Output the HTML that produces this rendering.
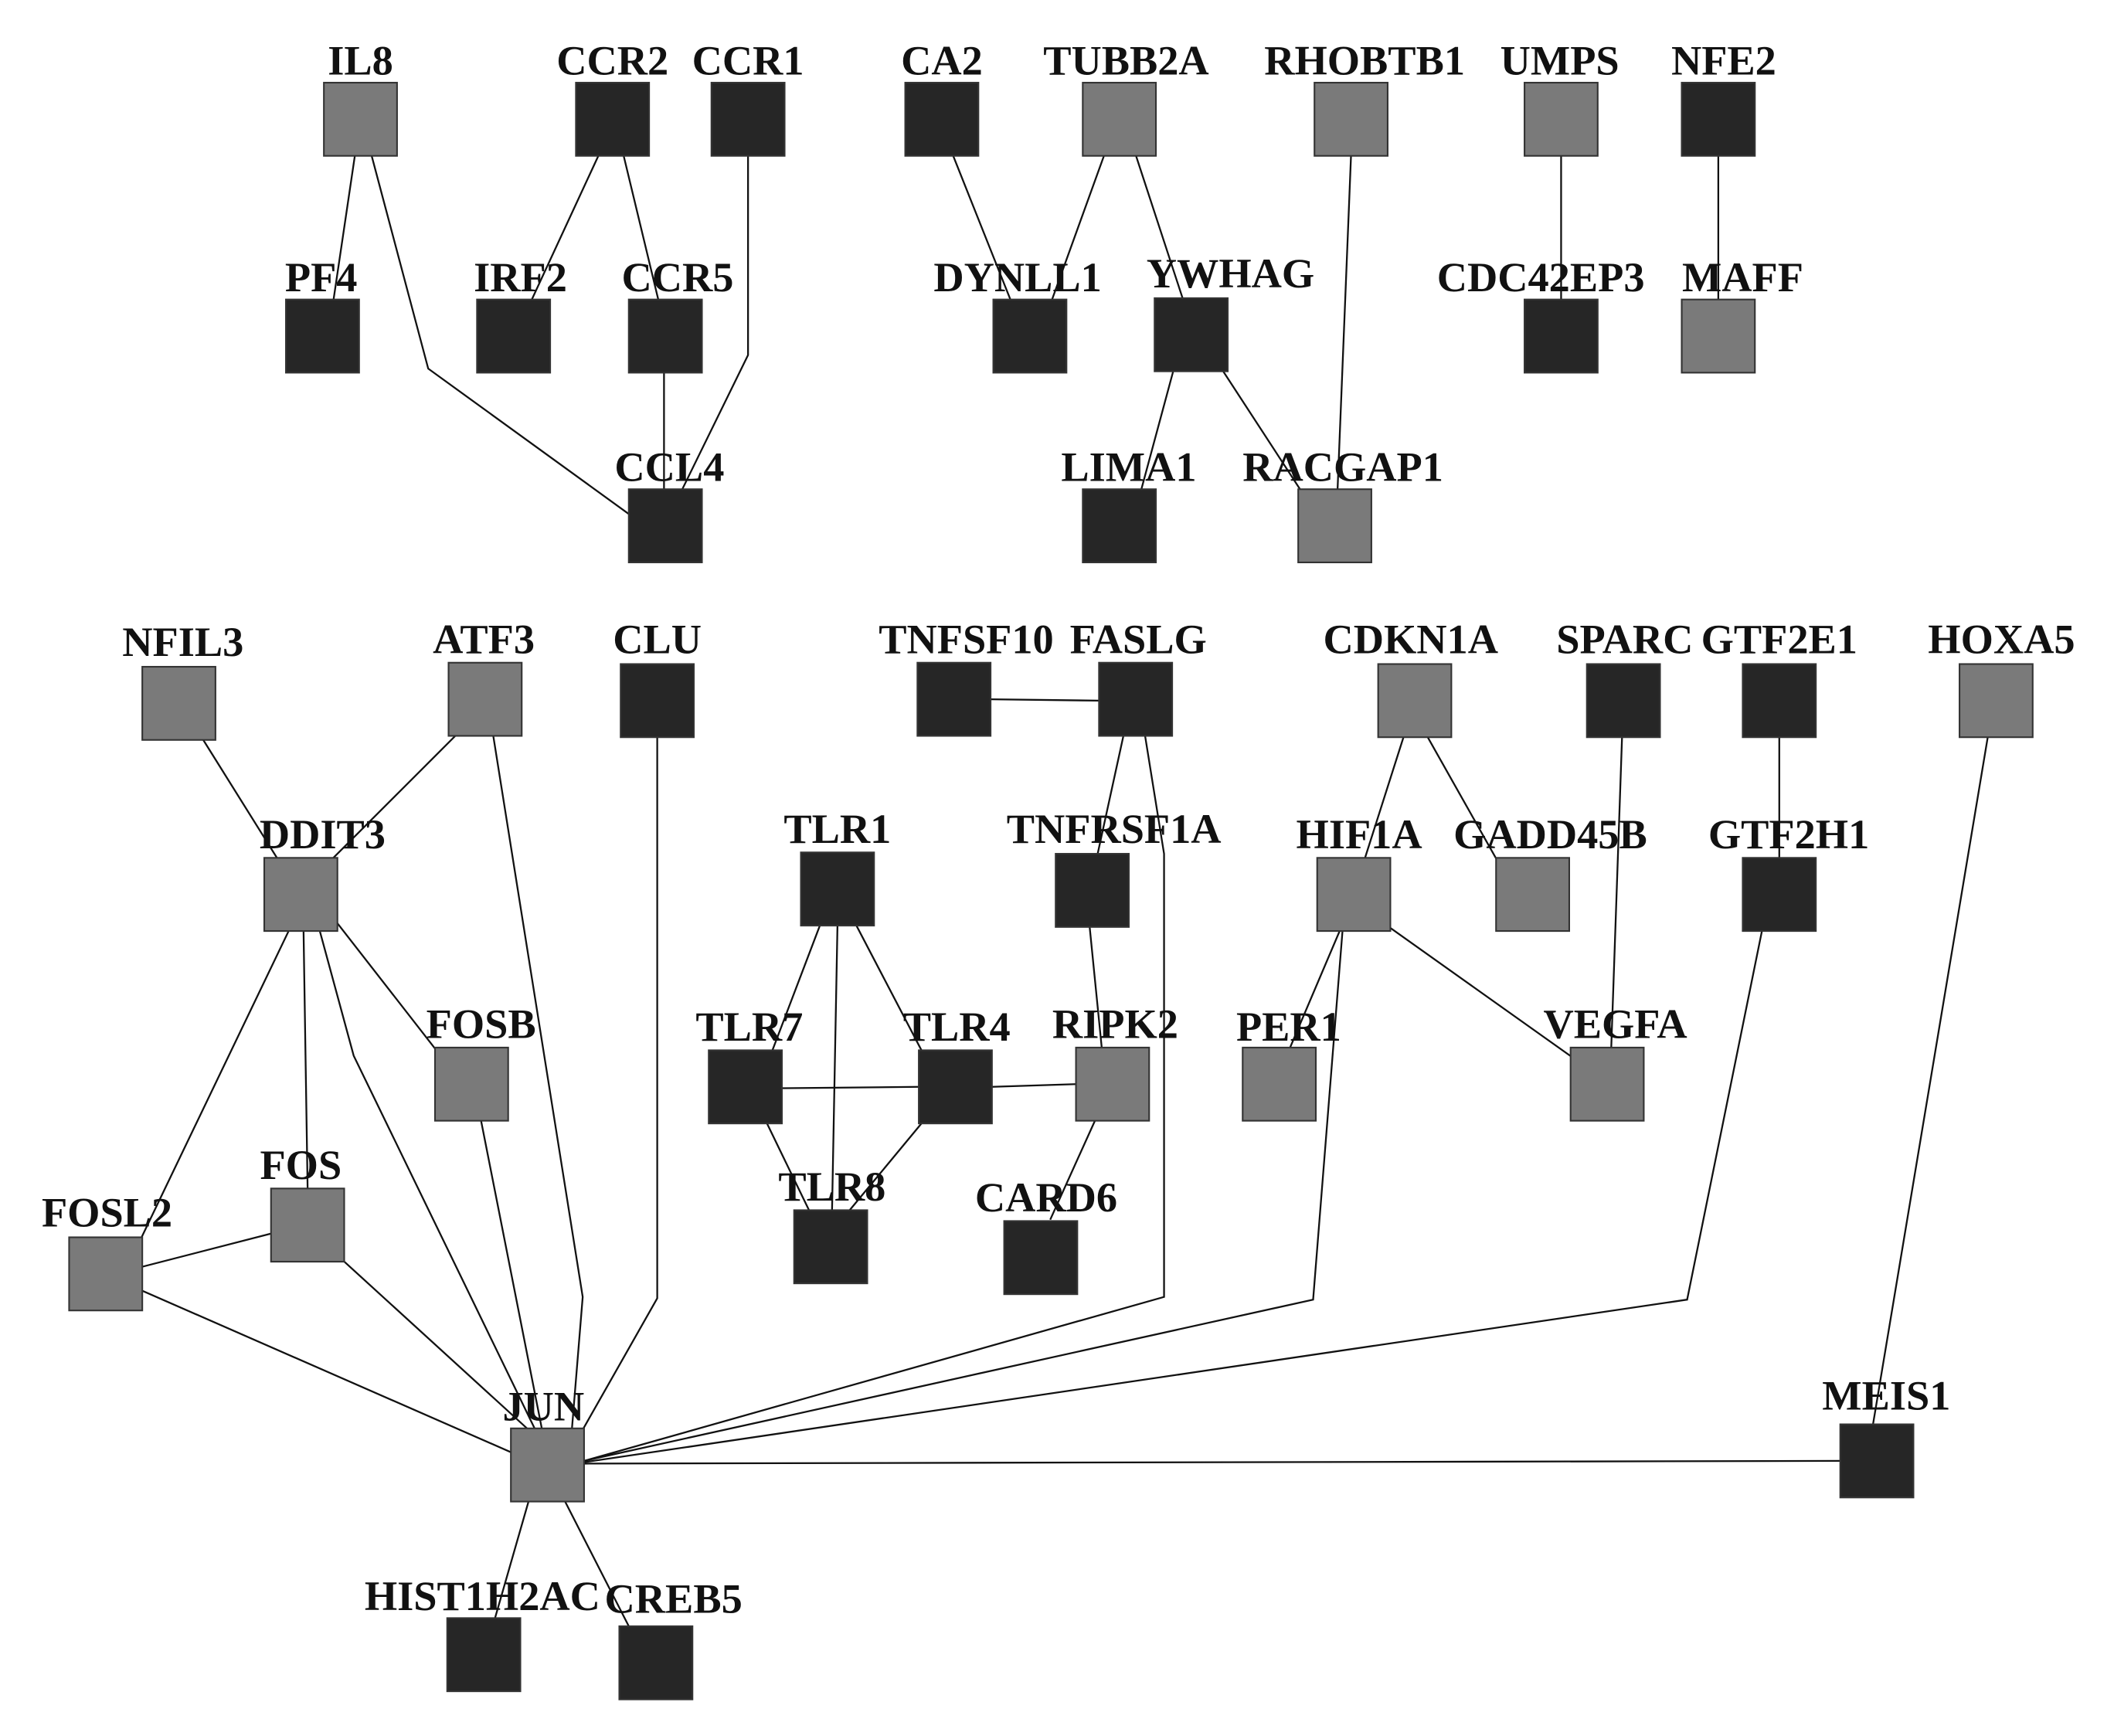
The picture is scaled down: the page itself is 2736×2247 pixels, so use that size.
<!DOCTYPE html>
<html><head><meta charset="utf-8"><style>
html,body{margin:0;padding:0;background:#fff;}
svg{display:block;}
text{font-family:"Liberation Serif",serif;font-weight:bold;font-size:31px;fill:#111;text-anchor:middle;}
.d{fill:#262626;stroke:#333;stroke-width:1.2}
.g{fill:#7a7a7a;stroke:#333;stroke-width:1.2}
path{fill:none;stroke:#111;stroke-width:1.3}
</style></head><body>
<svg width="2736" height="2247" viewBox="0 0 1560 1281" preserveAspectRatio="none" xmlns="http://www.w3.org/2000/svg">
<g>
<path d="M262,114 L246,222"/>
<path d="M274,114 L316,272 L465,380"/>
<path d="M442,114 L392,222"/>
<path d="M460,114 L486,222"/>
<path d="M552,114 L552,262 L503,362"/>
<path d="M490,275 L490,362"/>
<path d="M703,114 L746,222"/>
<path d="M815,114 L776,222"/>
<path d="M838,114 L873,221"/>
<path d="M997,114 L987,362"/>
<path d="M866,273 L842,362"/>
<path d="M902,273 L960,362"/>
<path d="M1152,114 L1152,222"/>
<path d="M1268,114 L1268,222"/>

<path d="M150,546 L205,634"/>
<path d="M336,543 L245,634"/>
<path d="M364,543 L430,957 L422,1055"/>
<path d="M485,543 L485,958 L430,1055"/>
<path d="M213,687 L104,914"/>
<path d="M224,687 L227,877"/>
<path d="M236,687 L261,779 L395,1055"/>
<path d="M248,680 L322,775"/>
<path d="M355,827 L400,1055"/>
<path d="M253,930 L390,1055"/>
<path d="M104,935 L201,910"/>
<path d="M104,952 L378,1072"/>
<path d="M390,1108 L365,1195"/>
<path d="M417,1108 L464,1200"/>
<path d="M431,1078 L859,957 L859,630 L845,543"/>
<path d="M431,1078 L969,959 L991,683"/>
<path d="M431,1079 L1245,959 L1301,683"/>
<path d="M431,1080 L1358,1078"/>
<path d="M1467,543 L1382,1052"/>
<path d="M829,543 L810,630"/>
<path d="M731,516 L811,517"/>
<path d="M804,683 L813,773"/>
<path d="M605,683 L570,775"/>
<path d="M618,683 L614,893"/>
<path d="M632,683 L680,775"/>
<path d="M577,803 L678,802"/>
<path d="M732,802 L794,800"/>
<path d="M566,829 L597,893"/>
<path d="M680,829 L627,893"/>
<path d="M808,827 L775,900"/>
<path d="M1036,543 L1007,634"/>
<path d="M1053,543 L1106,637"/>
<path d="M1197,543 L1189,773"/>
<path d="M1313,543 L1313,634"/>
<path d="M989,686 L952,773"/>
<path d="M1025,684 L1160,780"/>
</g>
<g>
<rect class="g" x="239" y="61" width="54" height="54"/>
<rect class="d" x="425" y="61" width="54" height="54"/>
<rect class="d" x="525" y="61" width="54" height="54"/>
<rect class="d" x="668" y="61" width="54" height="54"/>
<rect class="g" x="799" y="61" width="54" height="54"/>
<rect class="g" x="970" y="61" width="54" height="54"/>
<rect class="g" x="1125" y="61" width="54" height="54"/>
<rect class="d" x="1241" y="61" width="54" height="54"/>
<rect class="d" x="211" y="221" width="54" height="54"/>
<rect class="d" x="352" y="221" width="54" height="54"/>
<rect class="d" x="464" y="221" width="54" height="54"/>
<rect class="d" x="733" y="221" width="54" height="54"/>
<rect class="d" x="852" y="220" width="54" height="54"/>
<rect class="d" x="1125" y="221" width="54" height="54"/>
<rect class="g" x="1241" y="221" width="54" height="54"/>
<rect class="d" x="464" y="361" width="54" height="54"/>
<rect class="d" x="799" y="361" width="54" height="54"/>
<rect class="g" x="958" y="361" width="54" height="54"/>

<rect class="g" x="105" y="492" width="54" height="54"/>
<rect class="g" x="331" y="489" width="54" height="54"/>
<rect class="d" x="458" y="490" width="54" height="54"/>
<rect class="d" x="677" y="489" width="54" height="54"/>
<rect class="d" x="811" y="489" width="54" height="54"/>
<rect class="g" x="1017" y="490" width="54" height="54"/>
<rect class="d" x="1171" y="490" width="54" height="54"/>
<rect class="d" x="1286" y="490" width="54" height="54"/>
<rect class="g" x="1446" y="490" width="54" height="54"/>
<rect class="g" x="195" y="633" width="54" height="54"/>
<rect class="d" x="591" y="629" width="54" height="54"/>
<rect class="d" x="779" y="630" width="54" height="54"/>
<rect class="g" x="972" y="633" width="54" height="54"/>
<rect class="g" x="1104" y="633" width="54" height="54"/>
<rect class="d" x="1286" y="633" width="54" height="54"/>
<rect class="g" x="321" y="773" width="54" height="54"/>
<rect class="d" x="523" y="775" width="54" height="54"/>
<rect class="d" x="678" y="775" width="54" height="54"/>
<rect class="g" x="794" y="773" width="54" height="54"/>
<rect class="g" x="917" y="773" width="54" height="54"/>
<rect class="g" x="1159" y="773" width="54" height="54"/>
<rect class="g" x="200" y="877" width="54" height="54"/>
<rect class="g" x="51" y="913" width="54" height="54"/>
<rect class="d" x="586" y="893" width="54" height="54"/>
<rect class="d" x="741" y="901" width="54" height="54"/>
<rect class="g" x="377" y="1054" width="54" height="54"/>
<rect class="d" x="1358" y="1051" width="54" height="54"/>
<rect class="d" x="330" y="1194" width="54" height="54"/>
<rect class="d" x="457" y="1200" width="54" height="54"/>
</g>
<g>
<text x="266" y="55">IL8</text>
<text x="452" y="55">CCR2</text>
<text x="552" y="55">CCR1</text>
<text x="695" y="55">CA2</text>
<text x="831" y="55">TUBB2A</text>
<text x="1007" y="55">RHOBTB1</text>
<text x="1151" y="55">UMPS</text>
<text x="1272" y="55">NFE2</text>
<text x="237" y="215">PF4</text>
<text x="384" y="215">IRF2</text>
<text x="500" y="215">CCR5</text>
<text x="751" y="215">DYNLL1</text>
<text x="908" y="212">YWHAG</text>
<text x="1137" y="215">CDC42EP3</text>
<text x="1286" y="215">MAFF</text>
<text x="494" y="355">CCL4</text>
<text x="833" y="355">LIMA1</text>
<text x="991" y="355">RACGAP1</text>

<text x="135" y="484">NFIL3</text>
<text x="357" y="482">ATF3</text>
<text x="485" y="482">CLU</text>
<text x="713" y="482">TNFSF10</text>
<text x="840" y="482">FASLG</text>
<text x="1041" y="482">CDKN1A</text>
<text x="1199" y="482">SPARC</text>
<text x="1313" y="482">GTF2E1</text>
<text x="1477" y="482">HOXA5</text>
<text x="238" y="626">DDIT3</text>
<text x="618" y="622">TLR1</text>
<text x="822" y="622">TNFRSF1A</text>
<text x="1003" y="626">HIF1A</text>
<text x="1144" y="626">GADD45B</text>
<text x="1320" y="626">GTF2H1</text>
<text x="355" y="766">FOSB</text>
<text x="553" y="768">TLR7</text>
<text x="706" y="768">TLR4</text>
<text x="823" y="766">RIPK2</text>
<text x="951" y="768">PER1</text>
<text x="1192" y="766">VEGFA</text>
<text x="222" y="870">FOS</text>
<text x="79" y="905">FOSL2</text>
<text x="614" y="886">TLR8</text>
<text x="772" y="894">CARD6</text>
<text x="401" y="1048">JUN</text>
<text x="1392" y="1040">MEIS1</text>
<text x="356" y="1188">HIST1H2AC</text>
<text x="497" y="1190">CREB5</text>
</g>
</svg>
</body></html>
